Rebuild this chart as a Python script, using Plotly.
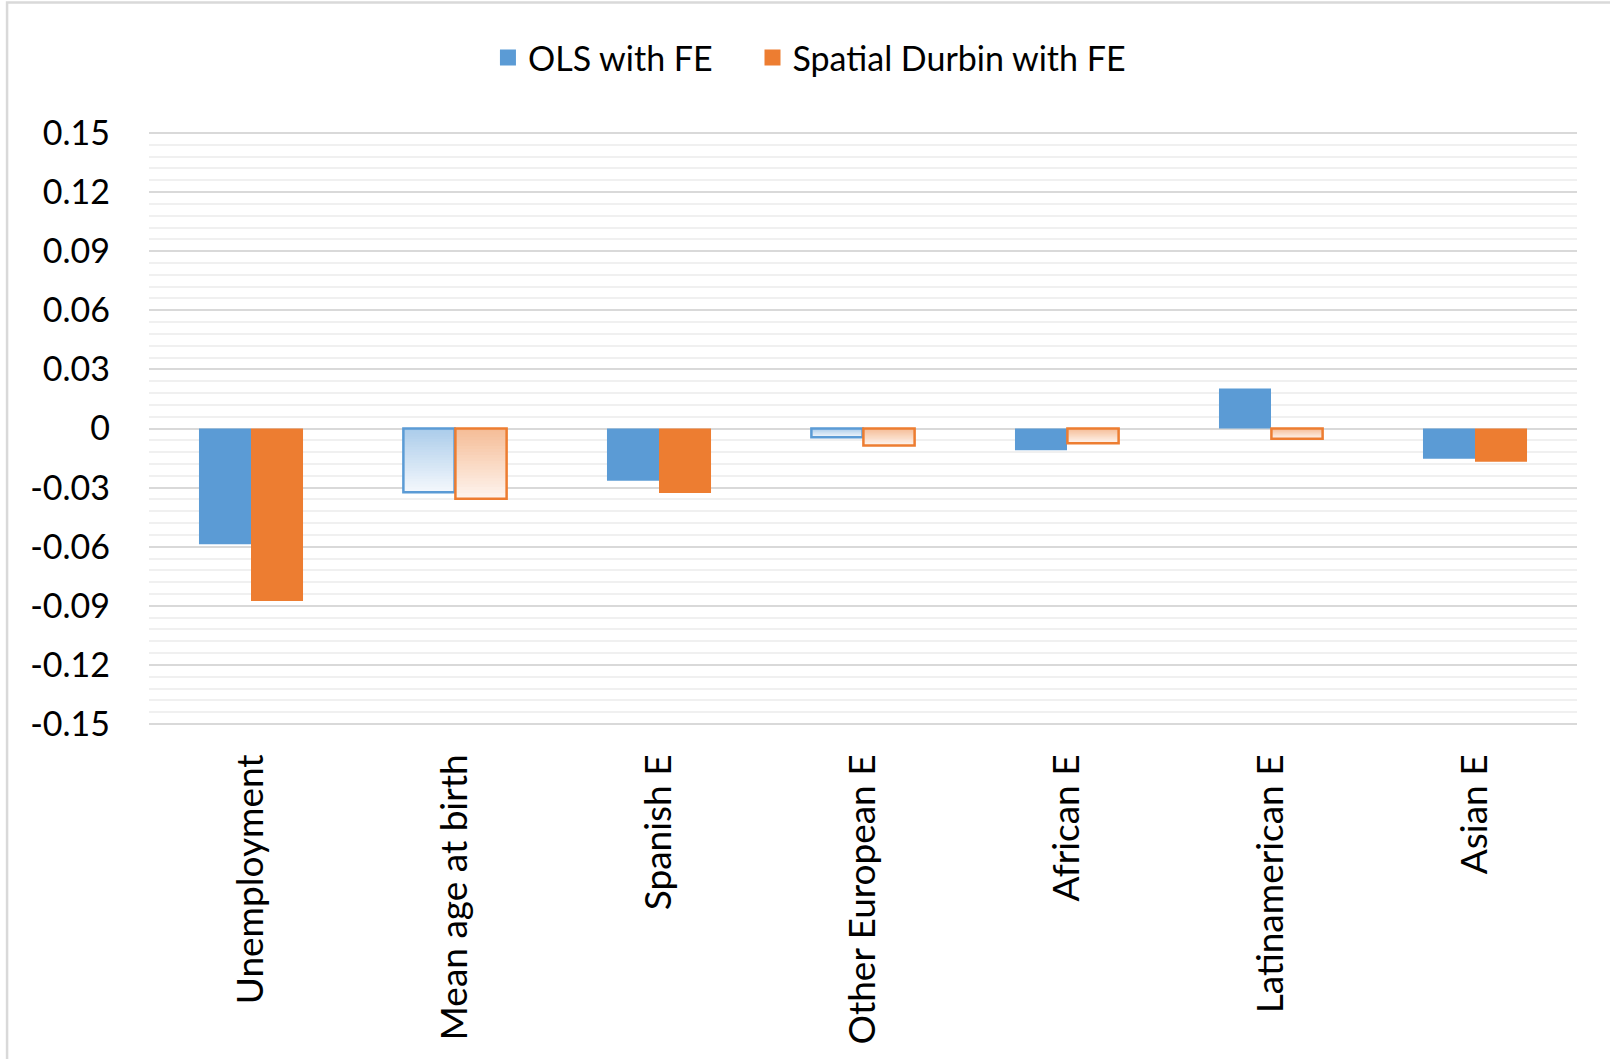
import plotly.graph_objects as go

# data
categories = ["Unemployment", "Mean age at birth", "Spanish E", "Other European E",
              "African E", "Latinamerican E", "Asian E"]
ols_fe = [-0.0588, -0.0323, -0.0265, -0.0044, -0.0110, 0.0203, -0.0154]
sdm_fe = [-0.0876, -0.0357, -0.0328, -0.0086, -0.0075, -0.0052, -0.0169]
# bars drawn with a gradient fill (non-significant) instead of solid fill
ols_gradient = [False, True, False, True, False, False, False]
sdm_gradient = [False, True, False, True, True, True, False]

y_ticks = [0.15, 0.12, 0.09, 0.06, 0.03, 0, -0.03, -0.06, -0.09, -0.12, -0.15]
y_ticktext = ["0.15", "0.12", "0.09", "0.06", "0.03", "0", "-0.03", "-0.06", "-0.09", "-0.12", "-0.15"]

BLUE = "#5b9bd5"
ORANGE = "#ed7d31"
FONT = "Lato"
BAR_W = 0.255
N_LAYERS = 24
GAP = "\u00a0" * 4


def mix(c1, c2, t):
    a = [int(c1[i:i + 2], 16) for i in (1, 3, 5)]
    b = [int(c2[i:i + 2], 16) for i in (1, 3, 5)]
    return "rgb(%d,%d,%d)" % tuple(round(a[i] + (b[i] - a[i]) * t) for i in range(3))


def add_series(fig, name, values, gradient, color, dark, light, offset):
    solid = [v if not g else None for v, g in zip(values, gradient)]
    fig.add_trace(go.Bar(x=categories, y=solid, name=name, width=BAR_W, offset=offset,
                         marker=dict(color=color, line=dict(width=0)), showlegend=False))
    # gradient bars: overlapping layers, lightest (full length) first
    for k in range(N_LAYERS):
        frac = 1 - k / N_LAYERS
        vals = [v * frac if g else None for v, g in zip(values, gradient)]
        fig.add_trace(go.Bar(x=categories, y=vals, width=BAR_W, offset=offset,
                             marker=dict(color=mix(dark, light, frac), line=dict(width=0)),
                             showlegend=False, hoverinfo="skip"))
    outline = [v if g else None for v, g in zip(values, gradient)]
    fig.add_trace(go.Bar(x=categories, y=outline, width=BAR_W - 0.004, offset=offset + 0.002,
                         marker=dict(color="rgba(0,0,0,0)", line=dict(color=color, width=2.5)),
                         showlegend=False, hoverinfo="skip"))
    # legend entry
    fig.add_trace(go.Scatter(x=[None], y=[None], mode="markers", name=name,
                             marker=dict(symbol="square", size=22, color=color)))


fig = go.Figure()
add_series(fig, "OLS with FE" + GAP, ols_fe, ols_gradient, BLUE, "#a9cbea", "#f3f7fc", -BAR_W)
add_series(fig, "Spatial Durbin with FE", sdm_fe, sdm_gradient, ORANGE, "#f5bb94", "#fef4ee", 0)

fig.update_layout(
    width=1610, height=1059,
    margin=dict(l=149, r=33, t=131, b=333),
    paper_bgcolor="white", plot_bgcolor="white",
    barmode="overlay",
    font=dict(family=FONT, size=34, color="#000000"),
    legend=dict(orientation="h", x=0.4625, xanchor="center", y=1.123, yanchor="middle",
                font=dict(size=34), itemsizing="trace", itemwidth=30, tracegroupgap=0),
    xaxis=dict(showgrid=False, showline=False, zeroline=False, ticks="",
               tickangle=-90, ticklabelstandoff=20, tickfont=dict(size=37)),
    yaxis=dict(range=[-0.151, 0.151], tickvals=y_ticks, ticktext=y_ticktext,
               showgrid=True, gridcolor="#d9d9d9", gridwidth=2,
               minor=dict(dtick=0.006, showgrid=True, gridcolor="#f0f0f0", gridwidth=2),
               zeroline=True, zerolinecolor="#d9d9d9", zerolinewidth=2,
               showline=False, ticks="", ticklabelstandoff=38, tickfont=dict(size=34)),
    shapes=[dict(type="rect", xref="paper", yref="paper", x0=-0.0994, x1=1.2, y0=-1.0, y1=1.216,
                 line=dict(color="#d9d9d9", width=2.5), fillcolor="rgba(0,0,0,0)", layer="below")],
)

fig.write_html("out.html", config={"displayModeBar": False},
               post_script="document.body.style.margin='0';")
